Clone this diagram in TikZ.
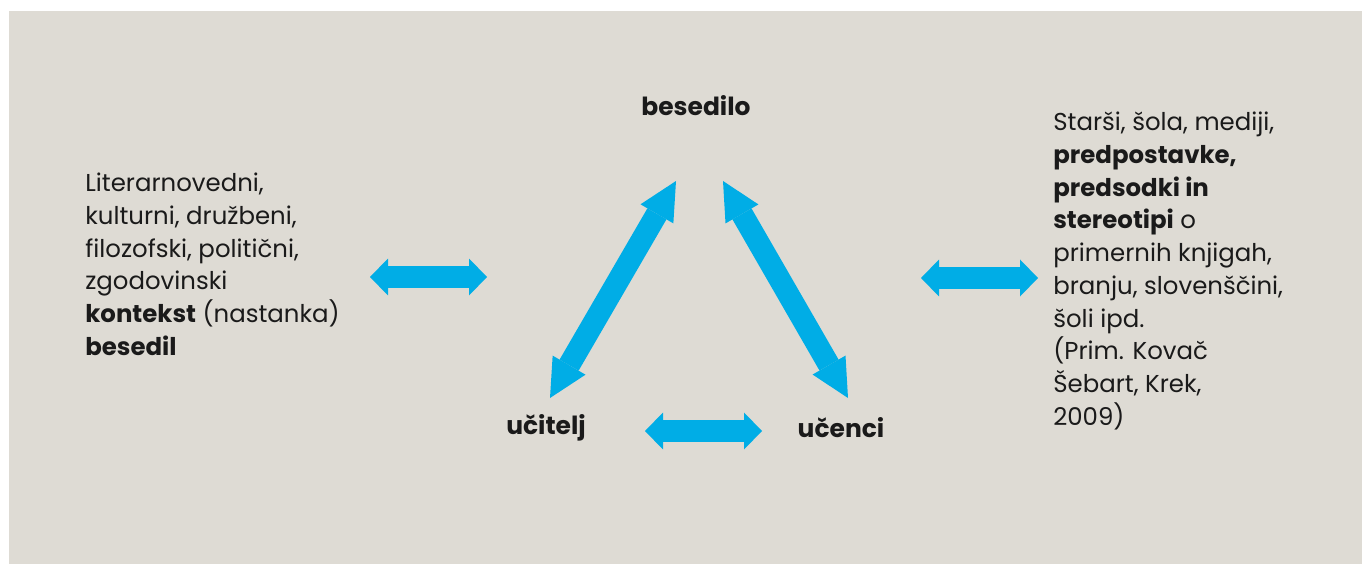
\documentclass[tikz,border=0pt]{standalone}
\usepackage{fontspec}
\setmainfont{Poppins}
\usepackage{tikz}
\usetikzlibrary{positioning, arrows.meta}
\definecolor{cPanel}{HTML}{DEDBD4}
\definecolor{cArrow}{HTML}{00ADE6}
\definecolor{cInk}  {HTML}{1A1A1A}
\tikzset{
  txt/.style     ={font=\fontsize{13.9}{18.6}\selectfont, text=cInk, inner sep=0pt},
  corner/.style  ={txt, font=\fontsize{14.2}{18.6}\selectfont\bfseries},
  sidetext/.style={txt, align=left, anchor=north west},
  flatarrow/.style ={draw=cArrow, line width=0.44cm,
    {Triangle[length=0.36cm, width=0.74cm, line width=0pt]}-{Triangle[length=0.36cm, width=0.74cm, line width=0pt]}},
  steeparrow/.style={draw=cArrow, line width=0.44cm,
    {Triangle[length=0.76cm, width=0.76cm, line width=0pt]}-{Triangle[length=0.76cm, width=0.76cm, line width=0pt]}},
}

\begin{document}
\begin{tikzpicture}[x=0.02cm, y=-0.02cm]
  \useasboundingbox (0, 0) rectangle (1362, 564);
  \fill[cPanel] (9, 11) rectangle (1362, 564);

  % the three corners
  \node[corner] (text)    at (696, 106) {besedilo};
  \node[corner] (teacher) at (546, 428) {učitelj};
  \node[corner] (pupils)  at (841, 428) {učenci};

  % side texts
  \node[sidetext] (context) at (85, 173) {Literarnovedni,\\
    kulturni, družbeni,\\
    filozofski, politični,\\
    zgodovinski\\
    \textbf{kontekst} (nastanka)\\
    \textbf{besedil}};
  \node[sidetext] (beliefs) at (1053, 112) {Starši, šola, mediji,\\
    \textbf{predpostavke,}\\
    \textbf{predsodki in}\\
    \textbf{stereotipi} o\\
    primernih knjigah,\\
    branju, slovenščini,\\
    šoli ipd.\\
    (Prim. Kovač\\
    Šebart, Krek,\\
    2009)};

  % arrow ends
  \coordinate (ctxA) at (370, 277);  \coordinate (ctxB) at (487, 277);
  \coordinate (belA) at (921, 278);  \coordinate (belB) at (1038, 278);
  \coordinate (botA) at (645, 431);  \coordinate (botB) at (762, 431);
  \coordinate (lftA) at (550, 398);  \coordinate (lftB) at (676, 181);
  \coordinate (rgtA) at (723, 181);  \coordinate (rgtB) at (848, 398);

  \draw[flatarrow]  (ctxA) -- (ctxB);
  \draw[flatarrow]  (belA) -- (belB);
  \draw[flatarrow]  (botA) -- (botB);
  \draw[steeparrow] (lftA) -- (lftB);
  \draw[steeparrow] (rgtA) -- (rgtB);
\end{tikzpicture}
\end{document}
